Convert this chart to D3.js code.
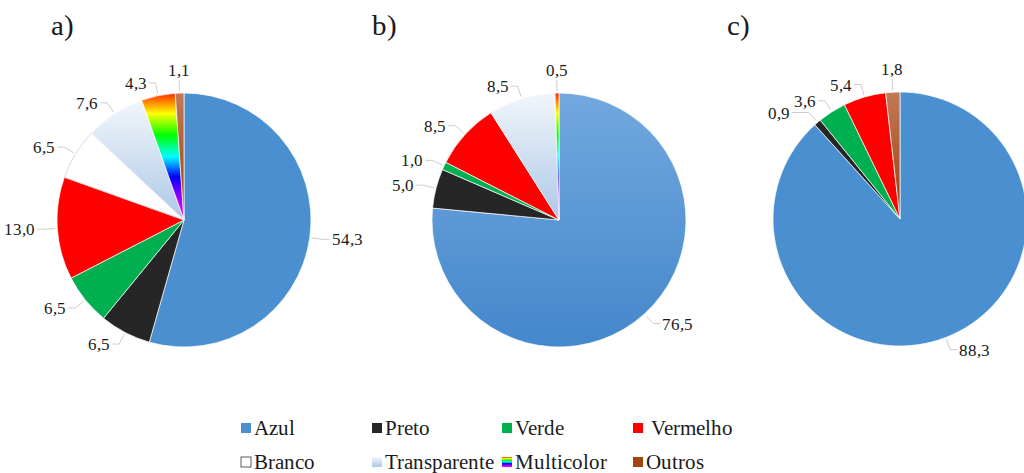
<!DOCTYPE html>
<html><head><meta charset="utf-8">
<script src="https://d3js.org/d3.v7.min.js"></script>
<style>
@font-face{font-family:"ChartSerif";src:local("Liberation Serif"),local("LiberationSerif"),local("Liberation Serif Regular"),local("LiberationSerif-Regular");}
body{margin:0;background:#fff}
svg{display:block}
svg text{font-family:"ChartSerif","Liberation Serif","Tinos","Times New Roman",serif !important;}
</style>
</head><body>
<svg id="c" width="1024" height="473"></svg>
<script>
const categories = ["Azul","Preto","Verde","Vermelho","Branco","Transparente","Multicolor","Outros"];
const panelTitles = ["a)","b)","c)"];
const valuesA = [54.3,6.5,6.5,13.0,6.5,7.6,4.3,1.1];
const valuesB = [76.5,5.0,1.0,8.5,0,8.5,0.5,0];
const valuesC = [88.3,0.9,3.6,5.4,0,0,0,1.8];
const labelsA = ["54,3","6,5","6,5","13,0","6,5","7,6","4,3","1,1"];
const labelsB = ["76,5","5,0","1,0","8,5","","8,5","0,5",""];
const labelsC = ["88,3","0,9","3,6","5,4","","","","1,8"];
const allValues = [valuesA, valuesB, valuesC];
const allLabels = [labelsA, labelsB, labelsC];

const svg = d3.select("#c");
const defs = svg.append("defs");
function vgrad(id, stops){
  const g = defs.append("linearGradient").attr("id",id).attr("x1",0).attr("y1",0).attr("x2",0).attr("y2",1);
  stops.forEach(s=>g.append("stop").attr("offset",s[0]).attr("stop-color",s[1]));
}
vgrad("rainbow",[[0,"#ff2a00"],[0.16,"#ffff00"],[0.33,"#00ff00"],[0.5,"#00ffff"],[0.66,"#0000ff"],[0.82,"#9900ff"],[1,"#ff00ff"]]);
vgrad("transp",[[0,"#f2f6fb"],[1,"#adc8e7"]]);
vgrad("azulB",[[0,"#72a8de"],[1,"#4487cc"]]);
vgrad("outros",[[0,"#c27a55"],[1,"#9c3d0c"]]);

const baseColors = {Azul:"#4a8fd0",Preto:"#262626",Verde:"#00b050",Vermelho:"#ff0000",Branco:"#ffffff",Transparente:"url(#transp)",Multicolor:"url(#rainbow)",Outros:"url(#outros)"};
const color = d3.scaleOrdinal().domain(categories).range(categories.map(c=>baseColors[c]));

const centers = [[184,220],[559,220],[900,219]];
const radius = 127;
const pie = d3.pie().sort(null).value(d=>d.v);
const arc = d3.arc().innerRadius(0).outerRadius(radius);

function txt(sel, size){
  return sel.attr("font-size",size).attr("fill","#1a1a1a");
}
function overlap(a,b){
  return !(a.x+a.width < b.x || b.x+b.width < a.x || a.y+a.height < b.y || b.y+b.height < a.y);
}

allValues.forEach((vals,pi)=>{
  const data = categories.map((c,i)=>({c, v: vals[i], lab: allLabels[pi][i]}));
  const g = svg.append("g").attr("transform",`translate(${centers[pi][0]},${centers[pi][1]})`);
  const arcs = pie(data).filter(d=>d.data.v>0);
  g.selectAll("path.slice").data(arcs).join("path").attr("class","slice")
    .attr("d",arc)
    .attr("fill",d=> (pi===1 && d.data.c==="Azul") ? "url(#azulB)" : color(d.data.c))
    .attr("stroke",d=> d.data.c==="Branco" ? "#c8c8c8" : "#ffffff")
    .attr("stroke-width",0.7);
  const items = arcs.map(d=>{
    const a = (d.startAngle+d.endAngle)/2;
    const sx = Math.sin(a), sy = -Math.cos(a);
    const p1 = [sx*(radius+2), sy*(radius+2)];
    const p2 = [sx*(radius+13), sy*(radius+13)];
    const side = sx>0.15 ? 1 : (sx<-0.15 ? -1 : 0);
    const p3 = [p2[0]+side*7, p2[1]];
    const line = g.append("path").attr("fill","none").attr("stroke","#c0c0c0").attr("stroke-width",0.8);
    const t = txt(g.append("text")
      .attr("x", p3[0] + side*2)
      .attr("y", p3[1] + (side===0 ? -4 : 6))
      .attr("text-anchor", side===1 ? "start" : side===-1 ? "end" : "middle"), 17)
      .text(d.data.lab);
    return {p1,p2,p3,side,line,t};
  });
  // resolve overlaps: push earlier label outward horizontally
  for (let k=1;k<items.length;k++){
    const prev = items[k-1], cur = items[k];
    const b1 = prev.t.node().getBBox(), b2 = cur.t.node().getBBox();
    if (overlap(b1,b2)){
      const shift = (prev.side<=0) ? -(b1.x+b1.width - b2.x + 4) : (b2.x+b2.width - b1.x + 4);
      prev.p3 = [prev.p3[0]+shift, prev.p3[1]];
      prev.t.attr("x", +prev.t.attr("x")+shift);
    }
  }
  items.forEach(it=>it.line.attr("d",d3.line()([it.p1,it.p2,it.p3])));
  txt(svg.append("text").attr("x",[51,372,727][pi]).attr("y",35), 29).text(panelTitles[pi]);
});

const legX = [241,372,502,633];
const legY = [428,462];
categories.forEach((c,i)=>{
  const x = legX[i%4], y = legY[Math.floor(i/4)];
  svg.append("rect").attr("x",x).attr("y",y-5).attr("width",10).attr("height",10)
    .attr("fill", c==="Multicolor" ? "url(#rainbow)" : (c==="Outros" ? "#a0470f" : color(c)))
    .attr("stroke", c==="Branco" ? "#333" : "none").attr("stroke-width",0.8);
  txt(svg.append("text").attr("x",x+13 + (c==="Vermelho"?5:0)).attr("y",y+7), 21).text(c);
});
</script>
</body></html>
